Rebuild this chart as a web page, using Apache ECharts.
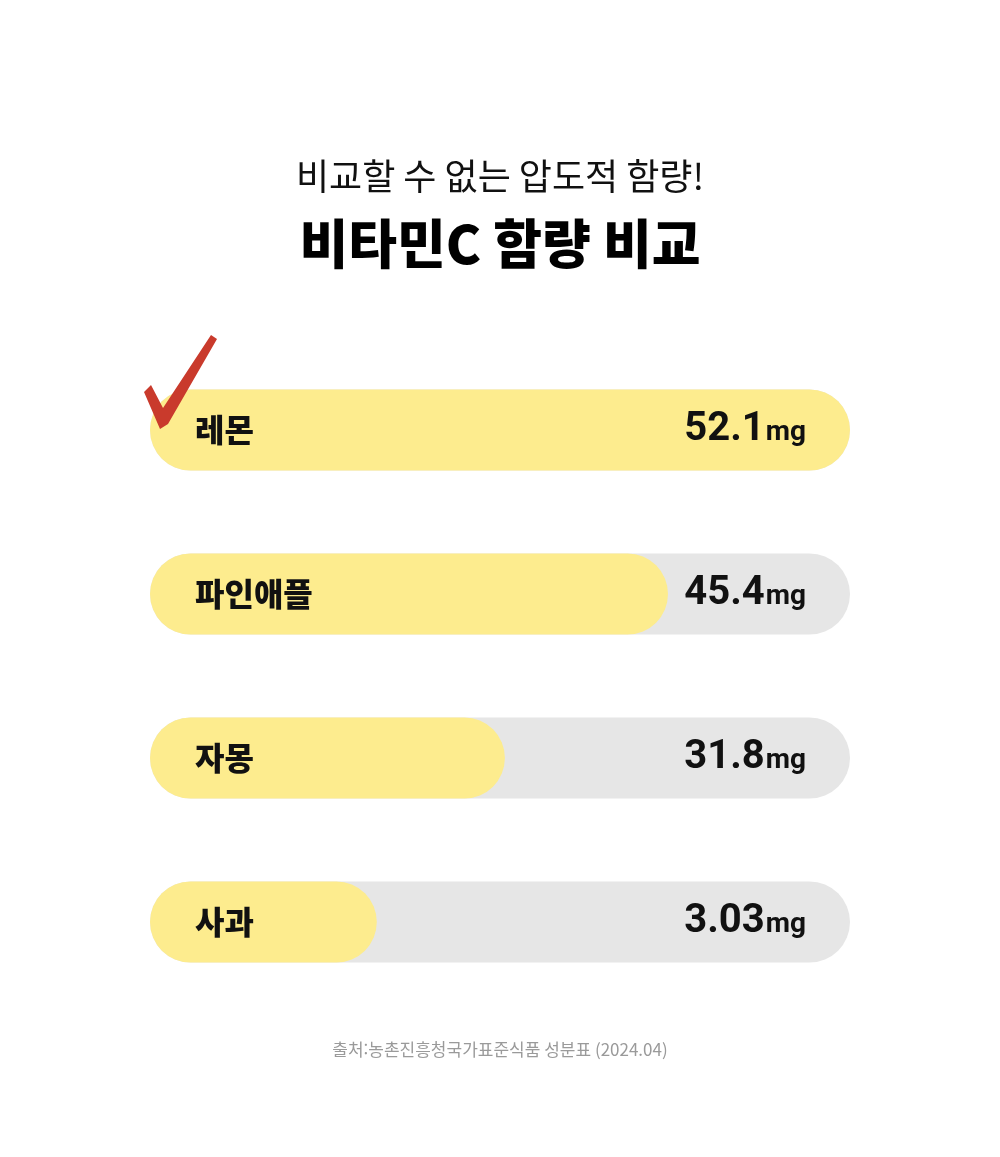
<!DOCTYPE html>
<html lang="ko">
<head>
    <meta charset="UTF-8">
    <title>비타민C 함량 비교</title>
    <script src="https://cdn.jsdelivr.net/npm/echarts@6/dist/echarts.min.js"></script>
    <style>
        html, body { margin: 0; padding: 0; background: #fff; }
        #container { width: 1000px; height: 1157px; }
    </style>
</head>
<body>
<div id="container"></div>
<script type="text/javascript">
    // 과일별 비타민C 함량 (mg)
    let fruits = ['레몬', '파인애플', '자몽', '사과'];
    let vitaminC = ['52.1', '45.4', '31.8', '3.03'];
    // 막대 채움 길이(%) - 그림에서 읽은 값
    let barFill = [100, 74, 50.7, 32.4];

    let dom = document.getElementById("container");
    let myChart = echarts.init(dom);
    let font = '"Noto Sans CJK KR", "Noto Sans", sans-serif';
    let numFont = 'Roboto, "Noto Sans CJK KR", sans-serif';

    let option = {
        backgroundColor: '#ffffff',
        textStyle: { fontFamily: font },
        title: [
            {
                text: '비교할 수 없는 압도적 함량!',
                left: 'center',
                top: 153,
                textStyle: { fontFamily: font, fontSize: 36, fontWeight: 400, color: '#111' }
            },
            {
                text: '비타민C 함량 비교',
                left: 'center',
                top: 212,
                textStyle: { fontFamily: font, fontSize: 53, fontWeight: 900, color: '#000' }
            },
            {
                text: '출처:농촌진흥청국가표준식품 성분표 (2024.04)',
                left: 'center',
                top: 1036,
                textStyle: { fontFamily: font, fontSize: 17, fontWeight: 400, color: '#9a9a9a' }
            }
        ],
        grid: {
            left: 150,
            right: 150,
            top: 348,
            bottom: 153
        },
        xAxis: {
            type: 'value',
            min: 0,
            max: 100,
            show: false
        },
        yAxis: [
            {
                type: 'category',
                data: fruits,
                inverse: true,
                position: 'left',
                z: 10,
                axisLine: { show: false },
                axisTick: { show: false },
                axisLabel: {
                    inside: true,
                    margin: 45,
                    color: '#111',
                    fontFamily: font,
                    fontSize: 32,
                    fontWeight: 900
                }
            },
            {
                type: 'category',
                data: vitaminC,
                inverse: true,
                position: 'right',
                z: 10,
                axisLine: { show: false },
                axisTick: { show: false },
                axisLabel: {
                    inside: true,
                    margin: 44,
                    formatter: function (v) {
                        return '{num|' + v + '}{unit|mg}';
                    },
                    rich: {
                        num: { fontFamily: numFont, fontSize: 40, fontWeight: 'bold', color: '#111' },
                        unit: { fontFamily: numFont, fontSize: 28, fontWeight: 'bold', color: '#111', padding: [6, 0, 0, 1] }
                    }
                }
            }
        ],
        series: [
            {
                type: 'bar',
                data: barFill,
                barWidth: 81,
                showBackground: true,
                backgroundStyle: {
                    color: '#e6e6e6',
                    borderRadius: 41
                },
                itemStyle: {
                    color: '#fdec8e',
                    borderRadius: 41
                },
                silent: true
            }
        ],
        graphic: [
            {
                // 체크 표시
                type: 'polygon',
                z: 20,
                shape: {
                    points: [[144, 392], [151, 385], [163, 408], [211, 335], [217, 339], [168, 424], [160, 429]]
                },
                style: { fill: '#c93a2c' }
            }
        ]
    };
    myChart.setOption(option);
</script>
</body>
</html>
